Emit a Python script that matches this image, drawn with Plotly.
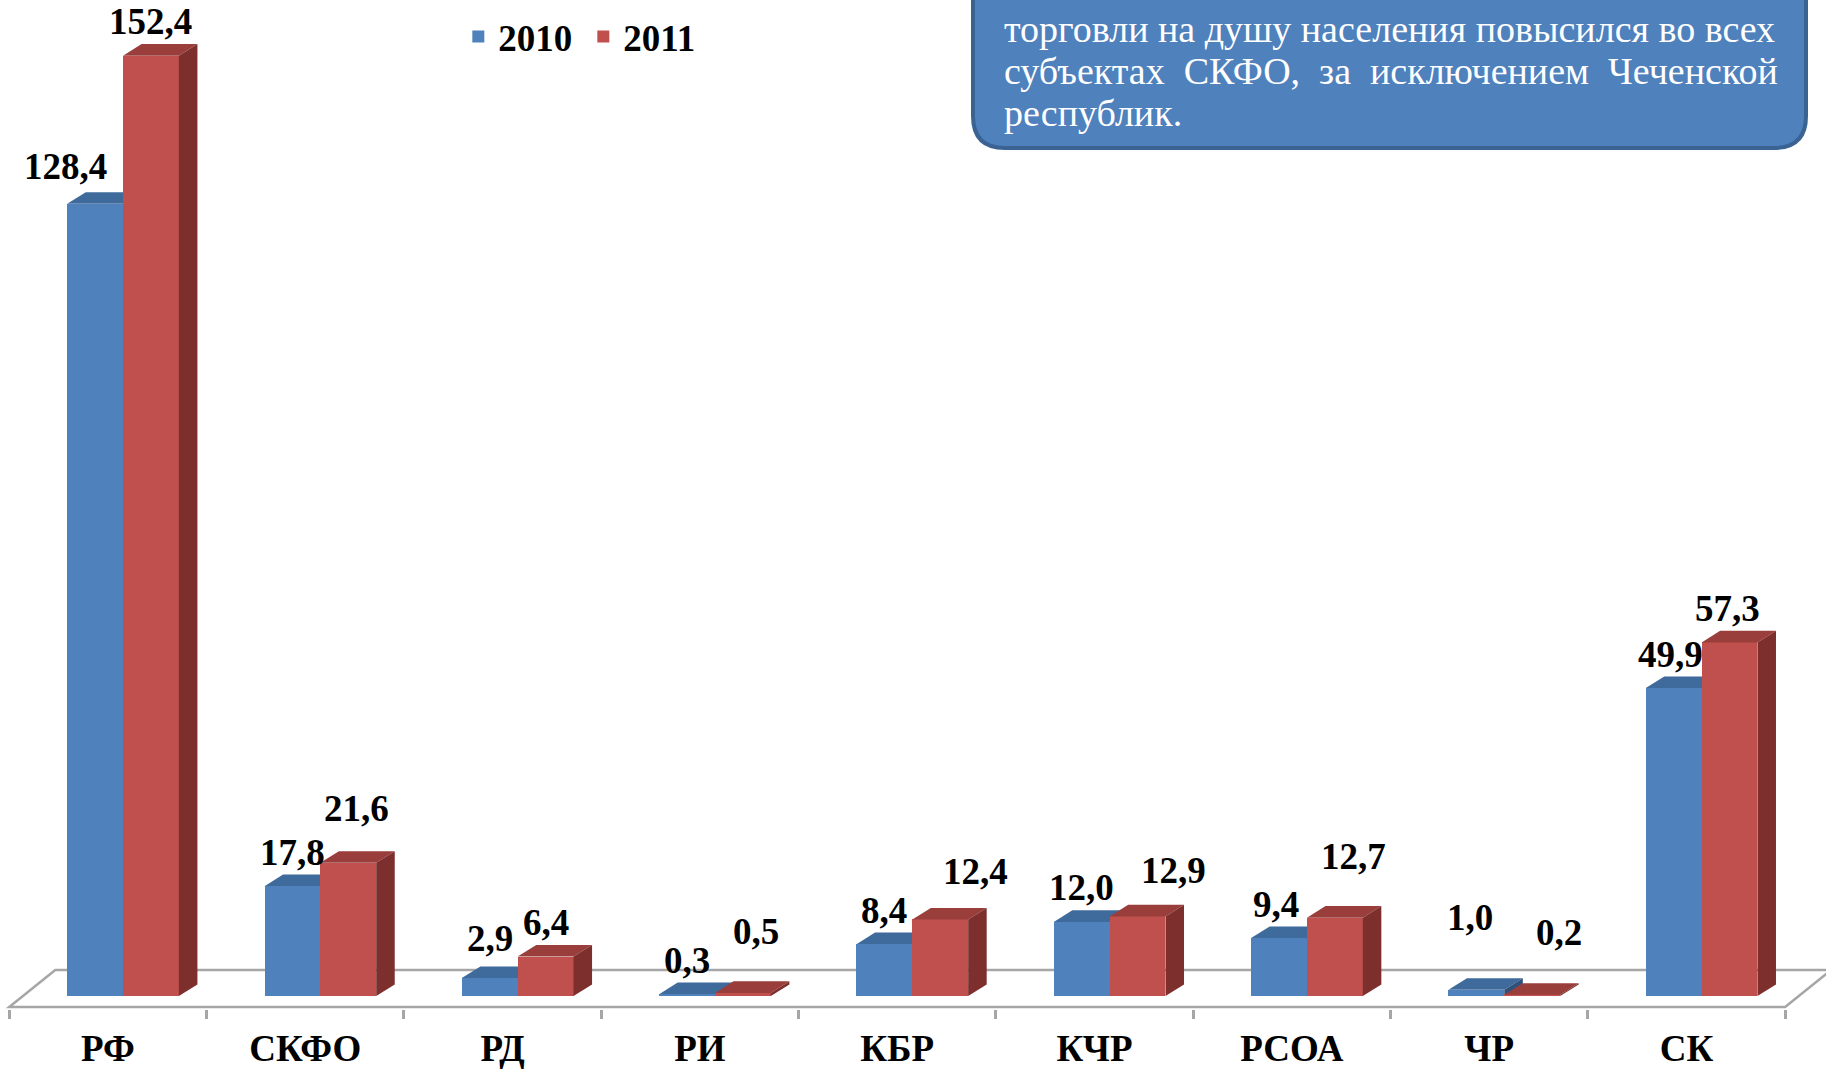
import plotly.graph_objects as go

# ---------------- data ----------------
categories = ["РФ", "СКФО", "РД", "РИ", "КБР", "КЧР", "РСОА", "ЧР", "СК"]
values_2010 = [128.4, 17.8, 2.9, 0.3, 8.4, 12.0, 9.4, 1.0, 49.9]
values_2011 = [152.4, 21.6, 6.4, 0.5, 12.4, 12.9, 12.7, 0.2, 57.3]
series_names = ["2010", "2011"]
note_lines = [
    "торговли на душу населения повысился во всех",
    "субъектах СКФО, за исключением Чеченской",
    "республик.",
]

# ---------------- style ----------------
W, H = 1826, 1069
MB = 60
PH = H - MB
PX_PER_UNIT = 6.17
ZERO_PX = 996
X_RANGE = [-0.547, 8.707]
Y_RANGE = [-(PH - ZERO_PX) / PX_PER_UNIT, ZERO_PX / PX_PER_UNIT]

BW = 0.283
OFFSETS = [-0.065, 0.218]
DX, DY = 0.094, 1.88
FRONT_COLORS = ["#4f81bd", "#c0504d"]
TOP_COLORS = ["#3f6a9c", "#9a3e3c"]
SIDE_COLORS = ["#30527a", "#7d2f2d"]
SERIF = "Liberation Serif, Times New Roman, serif"

# label nudges in px (dx, dy) for each series/category, mimicking the original placement
label_nudge = [
    [(-30, 3), (0, 0), (0, 6), (0, 0), (0, 0), (0, 0), (-3, 0), (-6, 38), (-3, 0)],
    [(0, 0), (8, 20), (0, 0), (13, 27), (35, 14), (36, 12), (19, 27), (27, 28), (-2, 0)],
]
# extra word spacing per note line (to imitate justified text)
note_space = [" ", " \u00a0", " "]

series_values = [values_2010, values_2011]

fig = go.Figure()
shapes = []

# floor (3D base)
FY = -11 / PX_PER_UNIT
FDX, FDY = 0.233, 37 / PX_PER_UNIT
n = len(categories)
fl = [(-0.5, FY), (n - 0.5, FY), (n - 0.5 + FDX, FY + FDY), (-0.5 + FDX, FY + FDY)]
shapes.append(dict(
    type="path", xref="x", yref="y", layer="below",
    path="M " + " L ".join(f"{x},{y}" for x, y in fl) + " Z",
    fillcolor="white", line=dict(color="#a6a6a6", width=2.5),
))

for s, (name, vals) in enumerate(zip(series_names, series_values)):
    xs = [i + OFFSETS[s] for i in range(n)]
    fig.add_trace(go.Bar(
        x=xs, y=vals, width=BW, name=name,
        marker=dict(color=FRONT_COLORS[s], line=dict(width=0)),
        hoverinfo="skip",
    ))
    layer = "below" if s == 0 else "above"
    for xc, v in zip(xs, vals):
        x0, x1 = xc - BW / 2, xc + BW / 2
        top = [(x0, v), (x1, v), (x1 + DX, v + DY), (x0 + DX, v + DY)]
        side = [(x1, 0), (x1, v), (x1 + DX, v + DY), (x1 + DX, DY)]
        for poly, col in ((top, TOP_COLORS[s]), (side, SIDE_COLORS[s])):
            shapes.append(dict(
                type="path", xref="x", yref="y", layer=layer,
                path="M " + " L ".join(f"{x},{y}" for x, y in poly) + " Z",
                fillcolor=col, line=dict(width=0),
            ))

annotations = []
for s, vals in enumerate(series_values):
    for i, v in enumerate(vals):
        dx, dy = label_nudge[s][i]
        annotations.append(dict(
            x=i + OFFSETS[s], y=v, xref="x", yref="y",
            text=f"{v:.1f}".replace(".", ","), showarrow=False,
            xanchor="center", yanchor="middle", xshift=dx, yshift=34 + dy,
            font=dict(family=SERIF, size=37, color="black", weight="bold"),
        ))

# note box (top right, partly cut off)
bx0, bx1, by0, by1 = 973, 1806, -30, 148
r = 32


def px(x):
    return x / W


def py(y):
    return 1 - y / PH


box_path = (
    f"M {px(bx0)},{py(by0)} L {px(bx1)},{py(by0)} "
    f"L {px(bx1)},{py(by1 - r)} Q {px(bx1)},{py(by1)} {px(bx1 - r)},{py(by1)} "
    f"L {px(bx0 + r)},{py(by1)} Q {px(bx0)},{py(by1)} {px(bx0)},{py(by1 - r)} Z"
)
shapes.append(dict(
    type="path", xref="paper", yref="paper", layer="above", path=box_path,
    fillcolor="#4f81bd", line=dict(color="#3a6292", width=4),
))

line_y = [29, 71, 113]
for txt, ly, sp in zip(note_lines, line_y, note_space):
    annotations.append(dict(
        x=px(1002), y=py(ly), xref="paper", yref="paper",
        text=txt.replace(" ", sp), showarrow=False, xanchor="left", yanchor="middle",
        font=dict(family=SERIF, size=38, color="white"),
    ))

fig.update_layout(
    width=W, height=H,
    margin=dict(l=0, r=0, t=0, b=MB, pad=0),
    paper_bgcolor="white", plot_bgcolor="white",
    barmode="overlay", bargap=0,
    showlegend=True,
    legend=dict(
        orientation="h", x=0.251, y=py(6), xanchor="left", yanchor="top",
        font=dict(family=SERIF, size=37, color="black", weight="bold"),
        bgcolor="rgba(0,0,0,0)", itemwidth=30, tracegroupgap=0,
        entrywidth=80,
    ),
    xaxis=dict(
        range=X_RANGE, showgrid=False, zeroline=False, showline=False,
        tickmode="array", tickvals=list(range(n)), ticktext=categories,
        ticks="", ticklabelstandoff=14,
        tickfont=dict(family=SERIF, size=37, color="black", weight="bold"),
        minor=dict(tickvals=[i - 0.5 for i in range(n + 1)], ticks="outside",
                   ticklen=9, tickwidth=2.5, tickcolor="#a6a6a6", showgrid=False),
        automargin=False, fixedrange=True,
    ),
    yaxis=dict(range=Y_RANGE, visible=False, showgrid=False, zeroline=False,
               automargin=False, fixedrange=True),
    shapes=shapes, annotations=annotations,
)

fig.write_html(
    "out.html",
    config={"displayModeBar": False},
    post_script="document.body.style.margin='0';document.body.style.overflow='hidden';",
)
